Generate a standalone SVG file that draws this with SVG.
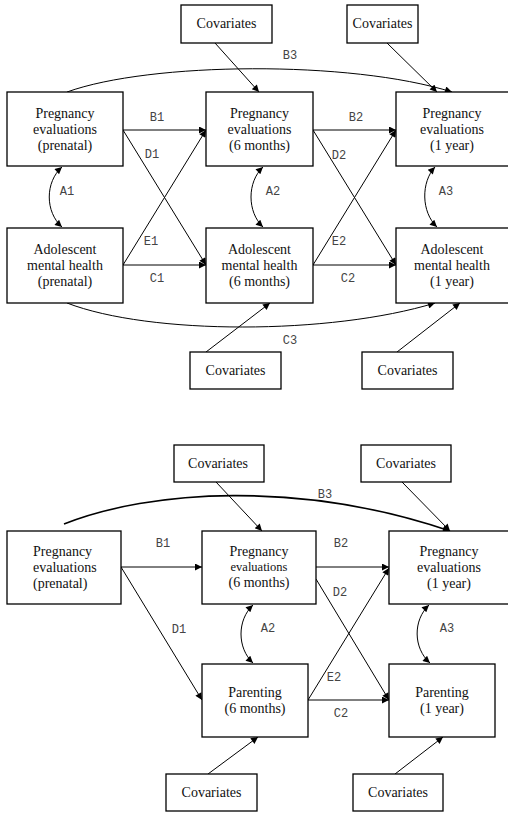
<svg xmlns="http://www.w3.org/2000/svg" width="508" height="833" viewBox="0 0 508 833">
<defs>
<marker id="ah" viewBox="0 0 10 10" refX="10" refY="5" markerWidth="10" markerHeight="7" orient="auto-start-reverse" markerUnits="userSpaceOnUse"><path d="M0,0 L10,5 L0,10 z" fill="#000"/></marker>
<style>
.box{fill:#fff;stroke:#000;stroke-width:1.3}
.c{fill:none;stroke:#000;stroke-width:1}
.a{marker-end:url(#ah)}
.d{marker-start:url(#ah);marker-end:url(#ah)}
</style>
</defs>
<rect width="508" height="833" fill="#fff"/>

<!-- Connectors -->
<g id="connectors">
<path class="c a" d="M67,92 C150,62 350,60 452,92"/>
<path class="c a" d="M67,303 C150,335 330,335 435,303"/>
<line class="c a" x1="215" y1="43" x2="259" y2="92"/>
<line class="c a" x1="387" y1="43" x2="437" y2="92"/>
<line class="c a" x1="206" y1="352" x2="270" y2="303"/>
<line class="c a" x1="397" y1="352" x2="460" y2="303"/>
<line class="c a" x1="123" y1="130" x2="206" y2="130"/>
<line class="c a" x1="123" y1="130" x2="206" y2="265"/>
<line class="c a" x1="123" y1="265" x2="206" y2="130"/>
<line class="c a" x1="123" y1="265" x2="206" y2="265"/>
<line class="c a" x1="313" y1="130" x2="396" y2="130"/>
<line class="c a" x1="313" y1="130" x2="396" y2="265"/>
<line class="c a" x1="313" y1="265" x2="396" y2="130"/>
<line class="c a" x1="313" y1="265" x2="396" y2="265"/>
<path class="c d" d="M62,167 C45,182 45,212 62,227"/>
<path class="c d" d="M263,167 C247,182 247,212 263,227"/>
<path class="c d" d="M435,167 C421,182 421,212 437,227"/>
<path class="c a" style="stroke-width:1.6" d="M64,524 C150,490 300,480 450,531"/>
<line class="c a" x1="216" y1="482" x2="262" y2="531"/>
<line class="c a" x1="402" y1="482" x2="450" y2="531"/>
<line class="c a" x1="208" y1="774" x2="258" y2="737"/>
<line class="c a" x1="395" y1="774" x2="443" y2="737"/>
<line class="c a" x1="121" y1="567" x2="202" y2="567"/>
<line class="c a" x1="121" y1="567" x2="202" y2="700"/>
<line class="c a" x1="316" y1="567" x2="389" y2="567"/>
<line class="c a" x1="316" y1="579" x2="389" y2="700"/>
<line class="c a" x1="308" y1="700" x2="389" y2="568"/>
<line class="c a" x1="308" y1="700" x2="389" y2="700"/>
<path class="c d" d="M253,605 C237,620 237,648 253,663"/>
<path class="c d" d="M429,605 C413,620 413,648 430,663"/>
</g>

<!-- Labels -->
<g id="labels" font-family="'Liberation Mono', 'Courier New', monospace" font-size="12" fill="#444" text-anchor="middle">
<text x="290" y="59">B3</text>
<text x="157" y="121">B1</text>
<text x="152" y="158">D1</text>
<text x="67" y="195">A1</text>
<text x="151" y="245">E1</text>
<text x="157" y="282">C1</text>
<text x="356" y="121">B2</text>
<text x="339" y="159">D2</text>
<text x="273" y="195">A2</text>
<text x="446" y="195">A3</text>
<text x="339" y="245">E2</text>
<text x="348" y="282">C2</text>
<text x="290" y="344">C3</text>
<text x="325" y="498">B3</text>
<text x="163" y="547">B1</text>
<text x="341" y="547">B2</text>
<text x="340" y="596">D2</text>
<text x="179" y="633">D1</text>
<text x="268" y="632">A2</text>
<text x="447" y="632">A3</text>
<text x="334" y="681">E2</text>
<text x="341" y="717">C2</text>
</g>

<g id="nodes" font-family="'Liberation Serif', 'Times New Roman', serif" font-size="14" fill="#111" text-anchor="middle">
<g id="cov_t1"><rect class="box" x="181" y="5" width="91" height="38"/><text x="226.5" y="28">Covariates</text></g>
<g id="cov_t2"><rect class="box" x="347" y="5" width="71" height="38"/><text x="382.5" y="28">Covariates</text></g>
<g id="preg_pre"><rect class="box" x="7" y="92" width="116" height="74"/><text x="65" y="118">Pregnancy</text><text x="65" y="134">evaluations</text><text x="65" y="150">(prenatal)</text></g>
<g id="preg_6m"><rect class="box" x="206" y="92" width="107" height="74"/><text x="259.5" y="118">Pregnancy</text><text x="259.5" y="134">evaluations</text><text x="259.5" y="150">(6 months)</text></g>
<g id="preg_1y"><rect class="box" x="396" y="92" width="116" height="74"/><text x="452" y="118">Pregnancy</text><text x="452" y="134">evaluations</text><text x="452" y="150">(1 year)</text></g>
<g id="adol_pre"><rect class="box" x="7" y="228" width="116" height="75"/><text x="65" y="254">Adolescent</text><text x="65" y="270">mental health</text><text x="65" y="286">(prenatal)</text></g>
<g id="adol_6m"><rect class="box" x="206" y="228" width="107" height="75"/><text x="259.5" y="254">Adolescent</text><text x="259.5" y="270">mental health</text><text x="259.5" y="286">(6 months)</text></g>
<g id="adol_1y"><rect class="box" x="396" y="228" width="116" height="75"/><text x="452" y="254">Adolescent</text><text x="452" y="270">mental health</text><text x="452" y="286">(1 year)</text></g>
<g id="cov_b1"><rect class="box" x="190" y="352" width="91" height="37"/><text x="235.5" y="375">Covariates</text></g>
<g id="cov_b2"><rect class="box" x="362" y="352" width="91" height="37"/><text x="407.5" y="375">Covariates</text></g>

<g id="cov_t3"><rect class="box" x="174" y="445" width="90" height="37"/><text x="218" y="468">Covariates</text></g>
<g id="cov_t4"><rect class="box" x="361" y="445" width="90" height="37"/><text x="406" y="468">Covariates</text></g>
<g id="preg_pre2"><rect class="box" x="7" y="531" width="114" height="73"/><text x="33" y="556" text-anchor="start">Pregnancy</text><text x="33" y="572" text-anchor="start">evaluations</text><text x="33" y="588" text-anchor="start">(prenatal)</text></g>
<g id="preg_6m2"><rect class="box" x="202" y="531" width="114" height="73"/><text x="259" y="556">Pregnancy</text><text x="259" y="571" font-size="12.5">evaluations</text><text x="259" y="587">(6 months)</text></g>
<g id="preg_1y2"><rect class="box" x="389" y="531" width="122" height="73"/><text x="449" y="556">Pregnancy</text><text x="449" y="572">evaluations</text><text x="449" y="588">(1 year)</text></g>
<g id="par_6m"><rect class="box" x="202" y="664" width="106" height="73"/><text x="255" y="697">Parenting</text><text x="255" y="713">(6 months)</text></g>
<g id="par_1y"><rect class="box" x="389" y="664" width="106" height="73"/><text x="442" y="697">Parenting</text><text x="442" y="713">(1 year)</text></g>
<g id="cov_b3"><rect class="box" x="166" y="774" width="91" height="37"/><text x="211.5" y="797">Covariates</text></g>
<g id="cov_b4"><rect class="box" x="353" y="774" width="90" height="37"/><text x="398" y="797">Covariates</text></g>
</g>
</svg>
